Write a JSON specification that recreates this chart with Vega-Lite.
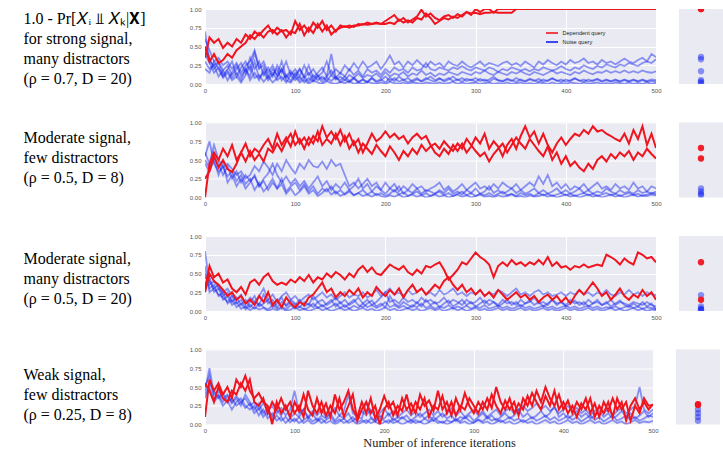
{
  "$schema": "https://vega.github.io/schema/vega-lite/v6.json",
  "background": "white",
  "padding": {"left": 23, "top": 6, "right": 0, "bottom": 0},
  "config": {
    "view": {"fill": "#eaeaf2", "stroke": null},
    "axis": {"domain": false, "ticks": false, "grid": true, "gridColor": "#ffffff", "gridWidth": 1, "labelFont": "Liberation Sans", "labelFontSize": 6, "labelColor": "#555555", "labelPadding": 3, "labelFlush": false, "labelOverlap": false},
    "axisY": {"labelPadding": 4, "titleAngle": 0, "titleAlign": "left", "titleBaseline": "alphabetic", "titleFont": "Liberation Serif", "titleFontSize": 16, "titleFontWeight": "normal", "titleColor": "#000000", "titleLineHeight": 20},
    "axisX": {"titleFont": "Liberation Serif", "titleFontSize": 12.4, "titleFontWeight": "normal", "titleColor": "#222222", "titleBaseline": "alphabetic"}
  },
  "datasets": {
    "p1": [
      {"x":0,"a":0.35,"b":0.5,"c":0.7,"d":0.5,"e":0.4,"f":0.3,"g":0.2,"h":0.6},
      {"x":5,"a":0.62,"b":0.3,"c":0.3,"d":0.35,"e":0.28,"f":0.2,"g":0.15,"h":0.45},
      {"x":10,"a":0.55,"b":0.4,"c":0.25,"d":0.2,"e":0.15,"f":0.25,"g":0.3,"h":0.3},
      {"x":15,"a":0.6,"b":0.28,"c":0.3,"d":0.28,"e":0.22,"f":0.1,"g":0.2,"h":0.35},
      {"x":20,"a":0.48,"b":0.32,"c":0.18,"d":0.12,"e":0.1,"f":0.18,"g":0.08,"h":0.25},
      {"x":25,"a":0.55,"b":0.4,"c":0.25,"d":0.2,"e":0.18,"f":0.05,"g":0.15,"h":0.3},
      {"x":30,"a":0.5,"b":0.35,"c":0.12,"d":0.3,"e":0.08,"f":0.15,"g":0.05,"h":0.2},
      {"x":35,"a":0.6,"b":0.45,"c":0.2,"d":0.1,"e":0.15,"f":0.25,"g":0.1,"h":0.28},
      {"x":40,"a":0.55,"b":0.5,"c":0.28,"d":0.22,"e":0.05,"f":0.1,"g":0.02,"h":0.15},
      {"x":45,"a":0.66,"b":0.55,"c":0.15,"d":0.3,"e":0.2,"f":0.2,"g":0.12,"h":0.25},
      {"x":50,"a":0.6,"b":0.65,"c":0.35,"d":0.18,"e":0.1,"f":0.05,"g":0.25,"h":0.3},
      {"x":55,"a":0.7,"b":0.6,"c":0.2,"d":0.42,"e":0.3,"f":0.15,"g":0.08,"h":0.45},
      {"x":60,"a":0.65,"b":0.68,"c":0.3,"d":0.2,"e":0.08,"f":0.05,"g":0.12,"h":0.22},
      {"x":65,"a":0.72,"b":0.62,"c":0.12,"d":0.25,"e":0.15,"f":0.2,"g":0.03,"h":0.3},
      {"x":70,"a":0.78,"b":0.7,"c":0.22,"d":0.1,"e":0.05,"f":0.08,"g":0.1,"h":0.15},
      {"x":75,"a":0.68,"b":0.72,"c":0.1,"d":0.2,"e":0.12,"f":0.15,"g":0.02,"h":0.25},
      {"x":80,"a":0.75,"b":0.66,"c":0.25,"d":0.12,"e":0.2,"f":0.05,"g":0.08,"h":0.1},
      {"x":85,"a":0.7,"b":0.72,"c":0.15,"d":0.3,"e":0.05,"f":0.1,"g":0.2,"h":0.2},
      {"x":90,"a":0.72,"b":0.62,"c":0.3,"d":0.1,"e":0.12,"f":0.02,"g":0.05,"h":0.08},
      {"x":95,"a":0.66,"b":0.7,"c":0.12,"d":0.18,"e":0.04,"f":0.12,"g":0.02,"h":0.15},
      {"x":100,"a":0.84,"b":0.68,"c":0.2,"d":0.08,"e":0.15,"f":0.05,"g":0.1,"h":0.12},
      {"x":105,"a":0.72,"b":0.8,"c":0.1,"d":0.2,"e":0.05,"f":0.1,"g":0.02,"h":0.2},
      {"x":110,"a":0.78,"b":0.65,"c":0.25,"d":0.1,"e":0.1,"f":0.02,"g":0.06,"h":0.08},
      {"x":115,"a":0.7,"b":0.75,"c":0.12,"d":0.25,"e":0.03,"f":0.08,"g":0,"h":0.15},
      {"x":120,"a":0.82,"b":0.68,"c":0.2,"d":0.08,"e":0.12,"f":0.03,"g":0.05,"h":0.05},
      {"x":125,"a":0.75,"b":0.8,"c":0.1,"d":0.15,"e":0.05,"f":0.1,"g":0.02,"h":0.12},
      {"x":130,"a":0.84,"b":0.7,"c":0.15,"d":0.22,"e":0.1,"f":0.02,"g":0,"h":0.06},
      {"x":135,"a":0.72,"b":0.78,"c":0.3,"d":0.1,"e":0.04,"f":0.08,"g":0.04,"h":0.1},
      {"x":140,"a":0.78,"b":0.66,"c":0.12,"d":0.18,"e":0.12,"f":0.04,"g":0.01,"h":0.4},
      {"x":145,"a":0.7,"b":0.72,"c":0.2,"d":0.08,"e":0.06,"f":0.1,"g":0,"h":0.08},
      {"x":150,"a":0.78,"b":0.75,"c":0.14,"d":0.15,"e":0.1,"f":0.02,"g":0.03,"h":0.05},
      {"x":155,"a":0.76,"b":0.77,"c":0.25,"d":0.1,"e":0.05,"f":0.06,"g":0.01,"h":0.1},
      {"x":160,"a":0.78,"b":0.75,"c":0.18,"d":0.2,"e":0.12,"f":0.02,"g":0.04,"h":0.04},
      {"x":165,"a":0.76,"b":0.78,"c":0.28,"d":0.12,"e":0.08,"f":0.08,"g":0,"h":0.08},
      {"x":170,"a":0.8,"b":0.78,"c":0.2,"d":0.18,"e":0.14,"f":0.03,"g":0.02,"h":0.02},
      {"x":175,"a":0.79,"b":0.8,"c":0.3,"d":0.1,"e":0.08,"f":0.06,"g":0,"h":0.06},
      {"x":180,"a":0.82,"b":0.79,"c":0.22,"d":0.2,"e":0.12,"f":0.02,"g":0.03,"h":0.03},
      {"x":185,"a":0.8,"b":0.8,"c":0.25,"d":0.15,"e":0.1,"f":0.08,"g":0.01,"h":0.08},
      {"x":190,"a":0.81,"b":0.82,"c":0.3,"d":0.18,"e":0.14,"f":0.04,"g":0,"h":0.02},
      {"x":195,"a":0.8,"b":0.8,"c":0.2,"d":0.12,"e":0.08,"f":0.06,"g":0.02,"h":0.05},
      {"x":200,"a":0.84,"b":0.8,"c":0.28,"d":0.2,"e":0.16,"f":0.02,"g":0,"h":0.1},
      {"x":205,"a":0.88,"b":0.82,"c":0.38,"d":0.15,"e":0.1,"f":0.08,"g":0.03,"h":0.04},
      {"x":210,"a":0.92,"b":0.8,"c":0.26,"d":0.22,"e":0.14,"f":0.04,"g":0.01,"h":0.08},
      {"x":215,"a":0.84,"b":0.86,"c":0.3,"d":0.18,"e":0.12,"f":0.1,"g":0,"h":0.03},
      {"x":220,"a":0.88,"b":0.82,"c":0.22,"d":0.2,"e":0.16,"f":0.05,"g":0.02,"h":0.06},
      {"x":225,"a":0.82,"b":0.85,"c":0.3,"d":0.15,"e":0.1,"f":0.08,"g":0,"h":0.02},
      {"x":230,"a":0.86,"b":0.82,"c":0.25,"d":0.22,"e":0.14,"f":0.03,"g":0.02,"h":0.05},
      {"x":235,"a":0.9,"b":0.88,"c":0.32,"d":0.18,"e":0.12,"f":0.06,"g":0.01,"h":0.08},
      {"x":240,"a":0.99,"b":0.86,"c":0.26,"d":0.2,"e":0.18,"f":0.04,"g":0,"h":0.03},
      {"x":245,"a":0.9,"b":0.94,"c":0.22,"d":0.28,"e":0.12,"f":0.08,"g":0.02,"h":0.06},
      {"x":250,"a":0.94,"b":0.88,"c":0.3,"d":0.2,"e":0.15,"f":0.05,"g":0.01,"h":0.1},
      {"x":255,"a":0.88,"b":0.8,"c":0.25,"d":0.18,"e":0.1,"f":0.03,"g":0,"h":0.05},
      {"x":260,"a":0.85,"b":0.84,"c":0.28,"d":0.22,"e":0.14,"f":0.07,"g":0.02,"h":0.08},
      {"x":265,"a":0.9,"b":0.88,"c":0.22,"d":0.2,"e":0.12,"f":0.05,"g":0,"h":0.03},
      {"x":270,"a":0.92,"b":0.86,"c":0.3,"d":0.18,"e":0.16,"f":0.08,"g":0.01,"h":0.06},
      {"x":275,"a":0.88,"b":0.9,"c":0.26,"d":0.22,"e":0.14,"f":0.04,"g":0.03,"h":0.1},
      {"x":280,"a":0.93,"b":0.88,"c":0.24,"d":0.2,"e":0.12,"f":0.06,"g":0,"h":0.05},
      {"x":285,"a":0.9,"b":0.92,"c":0.3,"d":0.24,"e":0.16,"f":0.03,"g":0.02,"h":0.08},
      {"x":290,"a":0.96,"b":0.96,"c":0.25,"d":0.2,"e":0.14,"f":0.07,"g":0,"h":0.04},
      {"x":295,"a":0.92,"b":0.94,"c":0.22,"d":0.18,"e":0.12,"f":0.05,"g":0.01,"h":0.06},
      {"x":300,"a":1,"b":0.95,"c":0.26,"d":0.22,"e":0.16,"f":0.08,"g":0.02,"h":0.03},
      {"x":305,"a":0.96,"b":0.93,"c":0.3,"d":0.2,"e":0.14,"f":0.04,"g":0,"h":0.07},
      {"x":310,"a":1,"b":0.95,"c":0.24,"d":0.18,"e":0.18,"f":0.06,"g":0.01,"h":0.04},
      {"x":315,"a":1,"b":0.95,"c":0.28,"d":0.22,"e":0.14,"f":0.03,"g":0.02,"h":0.06},
      {"x":320,"a":0.95,"b":0.96,"c":0.26,"d":0.2,"e":0.12,"f":0.07,"g":0,"h":0.1},
      {"x":325,"a":1,"b":0.95,"c":0.24,"d":0.16,"e":0.16,"f":0.05,"g":0.01,"h":0.05},
      {"x":330,"a":1,"b":0.95,"c":0.28,"d":0.2,"e":0.14,"f":0.04,"g":0,"h":0.03},
      {"x":335,"a":1,"b":0.95,"c":0.3,"d":0.18,"e":0.12,"f":0.07,"g":0.02,"h":0.06},
      {"x":340,"a":1,"b":0.95,"c":0.25,"d":0.22,"e":0.16,"f":0.05,"g":0,"h":0.04},
      {"x":345,"a":1,"b":1,"c":0.28,"d":0.2,"e":0.14,"f":0.03,"g":0.01,"h":0.08},
      {"x":350,"a":1,"b":1,"c":0.24,"d":0.18,"e":0.17,"f":0.06,"g":0.02,"h":0.05},
      {"x":355,"a":1,"b":1,"c":0.3,"d":0.2,"e":0.14,"f":0.04,"g":0,"h":0.03},
      {"x":360,"a":1,"b":1,"c":0.26,"d":0.17,"e":0.12,"f":0.07,"g":0.01,"h":0.06},
      {"x":365,"a":1,"b":1,"c":0.22,"d":0.2,"e":0.16,"f":0.05,"g":0,"h":0.04},
      {"x":370,"a":1,"b":1,"c":0.3,"d":0.18,"e":0.14,"f":0.03,"g":0.02,"h":0.07},
      {"x":375,"a":1,"b":1,"c":0.26,"d":0.22,"e":0.12,"f":0.06,"g":0.01,"h":0.03},
      {"x":380,"a":1,"b":1,"c":0.32,"d":0.2,"e":0.15,"f":0.04,"g":0,"h":0.05},
      {"x":385,"a":1,"b":1,"c":0.28,"d":0.18,"e":0.18,"f":0.07,"g":0.02,"h":0.08},
      {"x":390,"a":1,"b":1,"c":0.25,"d":0.2,"e":0.14,"f":0.05,"g":0,"h":0.04},
      {"x":395,"a":1,"b":1,"c":0.3,"d":0.24,"e":0.16,"f":0.03,"g":0.01,"h":0.06},
      {"x":400,"a":1,"b":1,"c":0.26,"d":0.2,"e":0.14,"f":0.06,"g":0,"h":0.03},
      {"x":405,"a":1,"b":1,"c":0.32,"d":0.18,"e":0.12,"f":0.04,"g":0.02,"h":0.05},
      {"x":410,"a":1,"b":1,"c":0.28,"d":0.22,"e":0.16,"f":0.07,"g":0.01,"h":0.08},
      {"x":415,"a":1,"b":1,"c":0.3,"d":0.2,"e":0.14,"f":0.05,"g":0,"h":0.04},
      {"x":420,"a":1,"b":1,"c":0.34,"d":0.25,"e":0.18,"f":0.03,"g":0.02,"h":0.06},
      {"x":425,"a":1,"b":1,"c":0.28,"d":0.22,"e":0.15,"f":0.06,"g":0,"h":0.03},
      {"x":430,"a":1,"b":1,"c":0.3,"d":0.2,"e":0.13,"f":0.04,"g":0.01,"h":0.05},
      {"x":435,"a":1,"b":1,"c":0.26,"d":0.24,"e":0.16,"f":0.06,"g":0.02,"h":0.07},
      {"x":440,"a":1,"b":1,"c":0.32,"d":0.22,"e":0.15,"f":0.03,"g":0,"h":0.04},
      {"x":445,"a":1,"b":1,"c":0.28,"d":0.26,"e":0.18,"f":0.05,"g":0.01,"h":0.06},
      {"x":450,"a":1,"b":1,"c":0.3,"d":0.24,"e":0.15,"f":0.04,"g":0,"h":0.03},
      {"x":455,"a":1,"b":1,"c":0.26,"d":0.22,"e":0.17,"f":0.06,"g":0.02,"h":0.05},
      {"x":460,"a":1,"b":1,"c":0.3,"d":0.26,"e":0.15,"f":0.03,"g":0.01,"h":0.04},
      {"x":465,"a":1,"b":1,"c":0.34,"d":0.24,"e":0.18,"f":0.05,"g":0,"h":0.06},
      {"x":470,"a":1,"b":1,"c":0.3,"d":0.28,"e":0.15,"f":0.04,"g":0.02,"h":0.03},
      {"x":475,"a":1,"b":1,"c":0.28,"d":0.26,"e":0.17,"f":0.06,"g":0,"h":0.05},
      {"x":480,"a":1,"b":1,"c":0.32,"d":0.24,"e":0.15,"f":0.03,"g":0.01,"h":0.04},
      {"x":485,"a":1,"b":1,"c":0.35,"d":0.28,"e":0.18,"f":0.05,"g":0,"h":0.06},
      {"x":490,"a":1,"b":1,"c":0.3,"d":0.3,"e":0.16,"f":0.04,"g":0.02,"h":0.03},
      {"x":495,"a":1,"b":1,"c":0.4,"d":0.28,"e":0.15,"f":0.06,"g":0,"h":0.04},
      {"x":500,"a":1,"b":1,"c":0.36,"d":0.33,"e":0.17,"f":0.05,"g":0.01,"h":0.03}
    ],
    "p2": [
      {"x":0,"a":0,"b":0.25,"c":0.6,"d":0.5,"e":0.45,"f":0.55},
      {"x":5,"a":0.45,"b":0.35,"c":0.45,"d":0.4,"e":0.35,"f":0.75},
      {"x":10,"a":0.6,"b":0.55,"c":0.7,"d":0.55,"e":0.5,"f":0.45},
      {"x":15,"a":0.5,"b":0.4,"c":0.5,"d":0.45,"e":0.3,"f":0.35},
      {"x":20,"a":0.65,"b":0.5,"c":0.4,"d":0.3,"e":0.45,"f":0.4},
      {"x":25,"a":0.55,"b":0.38,"c":0.45,"d":0.42,"e":0.2,"f":0.28},
      {"x":30,"a":0.7,"b":0.34,"c":0.38,"d":0.25,"e":0.3,"f":0.35},
      {"x":35,"a":0.5,"b":0.45,"c":0.3,"d":0.35,"e":0.15,"f":0.22},
      {"x":40,"a":0.6,"b":0.6,"c":0.35,"d":0.2,"e":0.25,"f":0.3},
      {"x":45,"a":0.72,"b":0.48,"c":0.25,"d":0.3,"e":0.12,"f":0.18},
      {"x":50,"a":0.55,"b":0.62,"c":0.3,"d":0.22,"e":0.2,"f":0.25},
      {"x":55,"a":0.65,"b":0.5,"c":0.42,"d":0.28,"e":0.3,"f":0.1},
      {"x":60,"a":0.6,"b":0.58,"c":0.35,"d":0.15,"e":0.15,"f":0.2},
      {"x":65,"a":0.7,"b":0.48,"c":0.48,"d":0.25,"e":0.22,"f":0.08},
      {"x":70,"a":0.78,"b":0.65,"c":0.4,"d":0.32,"e":0.1,"f":0.15},
      {"x":75,"a":0.65,"b":0.6,"c":0.3,"d":0.45,"e":0.2,"f":0.25},
      {"x":80,"a":0.85,"b":0.72,"c":0.45,"d":0.3,"e":0.12,"f":0.12},
      {"x":85,"a":0.7,"b":0.62,"c":0.35,"d":0.2,"e":0.25,"f":0.18},
      {"x":90,"a":0.8,"b":0.75,"c":0.5,"d":0.28,"e":0.08,"f":0.05},
      {"x":95,"a":0.68,"b":0.85,"c":0.4,"d":0.18,"e":0.15,"f":0.12},
      {"x":100,"a":0.88,"b":0.7,"c":0.32,"d":0.25,"e":0.2,"f":0.03},
      {"x":105,"a":0.72,"b":0.78,"c":0.45,"d":0.15,"e":0.1,"f":0.08},
      {"x":110,"a":0.8,"b":0.65,"c":0.38,"d":0.22,"e":0.18,"f":0.15},
      {"x":115,"a":0.7,"b":0.8,"c":0.5,"d":0.12,"e":0.08,"f":0.05},
      {"x":120,"a":0.82,"b":0.72,"c":0.42,"d":0.2,"e":0.15,"f":0.1},
      {"x":125,"a":0.75,"b":0.88,"c":0.4,"d":0.28,"e":0.05,"f":0.02},
      {"x":130,"a":0.95,"b":0.7,"c":0.48,"d":0.15,"e":0.12,"f":0.06},
      {"x":135,"a":0.8,"b":0.78,"c":0.38,"d":0.22,"e":0.08,"f":0.12},
      {"x":140,"a":0.88,"b":0.72,"c":0.5,"d":0.1,"e":0.15,"f":0.04},
      {"x":145,"a":0.78,"b":0.85,"c":0.42,"d":0.18,"e":0.05,"f":0.08},
      {"x":150,"a":0.9,"b":0.7,"c":0.45,"d":0.12,"e":0.1,"f":0.02},
      {"x":155,"a":0.75,"b":0.82,"c":0.3,"d":0.2,"e":0.04,"f":0.05},
      {"x":160,"a":0.85,"b":0.65,"c":0.15,"d":0.1,"e":0.08,"f":0.1},
      {"x":165,"a":0.7,"b":0.75,"c":0.2,"d":0.15,"e":0.03,"f":0.03},
      {"x":170,"a":0.78,"b":0.6,"c":0.12,"d":0.25,"e":0.06,"f":0.06},
      {"x":175,"a":0.6,"b":0.72,"c":0.18,"d":0.12,"e":0.1,"f":0.02},
      {"x":180,"a":0.72,"b":0.65,"c":0.25,"d":0.18,"e":0.04,"f":0.04},
      {"x":185,"a":0.85,"b":0.58,"c":0.15,"d":0.08,"e":0.08,"f":0.01},
      {"x":190,"a":0.75,"b":0.7,"c":0.2,"d":0.15,"e":0.03,"f":0.05},
      {"x":195,"a":0.8,"b":0.62,"c":0.1,"d":0.1,"e":0.06,"f":0.02},
      {"x":200,"a":0.88,"b":0.55,"c":0.2,"d":0.05,"e":0.02,"f":0},
      {"x":205,"a":0.8,"b":0.68,"c":0.12,"d":0.12,"e":0.05,"f":0.03},
      {"x":210,"a":0.85,"b":0.6,"c":0.18,"d":0.08,"e":0.1,"f":0.01},
      {"x":215,"a":0.78,"b":0.5,"c":0.08,"d":0.15,"e":0.04,"f":0.04},
      {"x":220,"a":0.82,"b":0.62,"c":0.15,"d":0.05,"e":0.07,"f":0},
      {"x":225,"a":0.72,"b":0.55,"c":0.1,"d":0.1,"e":0.02,"f":0.02},
      {"x":230,"a":0.8,"b":0.65,"c":0.18,"d":0.06,"e":0.05,"f":0.04},
      {"x":235,"a":0.85,"b":0.58,"c":0.12,"d":0.12,"e":0.08,"f":0.01},
      {"x":240,"a":0.78,"b":0.7,"c":0.15,"d":0.05,"e":0.03,"f":0.03},
      {"x":245,"a":0.82,"b":0.62,"c":0.08,"d":0.1,"e":0.06,"f":0},
      {"x":250,"a":0.7,"b":0.68,"c":0.12,"d":0.08,"e":0.02,"f":0.02},
      {"x":255,"a":0.6,"b":0.72,"c":0.15,"d":0.05,"e":0.05,"f":0.04},
      {"x":260,"a":0.55,"b":0.65,"c":0.2,"d":0.1,"e":0.08,"f":0.01},
      {"x":265,"a":0.65,"b":0.75,"c":0.1,"d":0.06,"e":0.03,"f":0.03},
      {"x":270,"a":0.58,"b":0.68,"c":0.15,"d":0.12,"e":0.06,"f":0},
      {"x":275,"a":0.7,"b":0.62,"c":0.08,"d":0.05,"e":0.02,"f":0.02},
      {"x":280,"a":0.62,"b":0.72,"c":0.12,"d":0.08,"e":0.05,"f":0.04},
      {"x":285,"a":0.72,"b":0.65,"c":0.18,"d":0.04,"e":0.08,"f":0.01},
      {"x":290,"a":0.6,"b":0.78,"c":0.1,"d":0.1,"e":0.03,"f":0.03},
      {"x":295,"a":0.68,"b":0.7,"c":0.15,"d":0.06,"e":0.06,"f":0},
      {"x":300,"a":0.8,"b":0.62,"c":0.2,"d":0.12,"e":0.02,"f":0.02},
      {"x":305,"a":0.72,"b":0.55,"c":0.12,"d":0.05,"e":0.05,"f":0.04},
      {"x":310,"a":0.85,"b":0.6,"c":0.15,"d":0.08,"e":0.03,"f":0.01},
      {"x":315,"a":0.65,"b":0.48,"c":0.1,"d":0.15,"e":0.06,"f":0.02},
      {"x":320,"a":0.75,"b":0.58,"c":0.18,"d":0.06,"e":0.02,"f":0},
      {"x":325,"a":0.68,"b":0.65,"c":0.12,"d":0.1,"e":0.05,"f":0.03},
      {"x":330,"a":0.55,"b":0.72,"c":0.2,"d":0.05,"e":0.08,"f":0.01},
      {"x":335,"a":0.7,"b":0.6,"c":0.15,"d":0.08,"e":0.03,"f":0.02},
      {"x":340,"a":0.78,"b":0.7,"c":0.12,"d":0.12,"e":0.05,"f":0.04},
      {"x":345,"a":0.65,"b":0.8,"c":0.18,"d":0.06,"e":0.02,"f":0.01},
      {"x":350,"a":0.82,"b":0.72,"c":0.1,"d":0.1,"e":0.06,"f":0.02},
      {"x":355,"a":0.95,"b":0.65,"c":0.15,"d":0.05,"e":0.03,"f":0},
      {"x":360,"a":0.8,"b":0.78,"c":0.2,"d":0.08,"e":0.05,"f":0.03},
      {"x":365,"a":0.88,"b":0.7,"c":0.15,"d":0.12,"e":0.02,"f":0.01},
      {"x":370,"a":0.72,"b":0.62,"c":0.28,"d":0.06,"e":0.06,"f":0.02},
      {"x":375,"a":0.85,"b":0.55,"c":0.18,"d":0.1,"e":0.03,"f":0.04},
      {"x":380,"a":0.7,"b":0.68,"c":0.3,"d":0.05,"e":0.05,"f":0.01},
      {"x":385,"a":0.6,"b":0.5,"c":0.15,"d":0.08,"e":0.02,"f":0.03},
      {"x":390,"a":0.72,"b":0.6,"c":0.2,"d":0.12,"e":0.04,"f":0},
      {"x":395,"a":0.8,"b":0.45,"c":0.12,"d":0.06,"e":0.06,"f":0.02},
      {"x":400,"a":0.7,"b":0.55,"c":0.18,"d":0.1,"e":0.03,"f":0.04},
      {"x":405,"a":0.78,"b":0.42,"c":0.1,"d":0.05,"e":0.05,"f":0.01},
      {"x":410,"a":0.85,"b":0.48,"c":0.15,"d":0.08,"e":0.02,"f":0.03},
      {"x":415,"a":0.82,"b":0.4,"c":0.12,"d":0.12,"e":0.04,"f":0},
      {"x":420,"a":0.9,"b":0.35,"c":0.18,"d":0.06,"e":0.06,"f":0.02},
      {"x":425,"a":0.85,"b":0.45,"c":0.1,"d":0.1,"e":0.03,"f":0.04},
      {"x":430,"a":0.95,"b":0.38,"c":0.15,"d":0.05,"e":0.05,"f":0.01},
      {"x":435,"a":0.88,"b":0.5,"c":0.2,"d":0.08,"e":0.02,"f":0.03},
      {"x":440,"a":0.9,"b":0.55,"c":0.12,"d":0.06,"e":0.04,"f":0},
      {"x":445,"a":0.85,"b":0.48,"c":0.15,"d":0.12,"e":0.06,"f":0.02},
      {"x":450,"a":0.82,"b":0.58,"c":0.1,"d":0.08,"e":0.03,"f":0.04},
      {"x":455,"a":0.78,"b":0.52,"c":0.18,"d":0.05,"e":0.05,"f":0.01},
      {"x":460,"a":0.75,"b":0.6,"c":0.12,"d":0.1,"e":0.02,"f":0.03},
      {"x":465,"a":0.85,"b":0.55,"c":0.15,"d":0.06,"e":0.04,"f":0},
      {"x":470,"a":0.72,"b":0.62,"c":0.1,"d":0.08,"e":0.06,"f":0.02},
      {"x":475,"a":0.9,"b":0.5,"c":0.2,"d":0.05,"e":0.03,"f":0.04},
      {"x":480,"a":0.78,"b":0.6,"c":0.12,"d":0.1,"e":0.05,"f":0.01},
      {"x":485,"a":0.95,"b":0.55,"c":0.15,"d":0.06,"e":0.02,"f":0.03},
      {"x":490,"a":0.7,"b":0.65,"c":0.08,"d":0.08,"e":0.04,"f":0.02},
      {"x":495,"a":0.85,"b":0.58,"c":0.15,"d":0.05,"e":0.06,"f":0.04},
      {"x":500,"a":0.66,"b":0.52,"c":0.12,"d":0.08,"e":0.05,"f":0.03}
    ],
    "p3": [
      {"x":0,"a":0.3,"b":0.25,"c":0.8,"d":0.45,"e":0.5,"f":0.35,"g":0.6},
      {"x":5,"a":0.6,"b":0.5,"c":0.35,"d":0.4,"e":0.3,"f":0.45,"g":0.25},
      {"x":10,"a":0.45,"b":0.4,"c":0.4,"d":0.3,"e":0.35,"f":0.25,"g":0.3},
      {"x":15,"a":0.5,"b":0.35,"c":0.3,"d":0.35,"e":0.2,"f":0.3,"g":0.22},
      {"x":20,"a":0.38,"b":0.28,"c":0.25,"d":0.2,"e":0.25,"f":0.15,"g":0.18},
      {"x":25,"a":0.42,"b":0.2,"c":0.3,"d":0.25,"e":0.1,"f":0.2,"g":0.12},
      {"x":30,"a":0.3,"b":0.25,"c":0.2,"d":0.12,"e":0.15,"f":0.08,"g":0.2},
      {"x":35,"a":0.25,"b":0.15,"c":0.15,"d":0.18,"e":0.05,"f":0.12,"g":0.1},
      {"x":40,"a":0.32,"b":0.2,"c":0.22,"d":0.08,"e":0.1,"f":0.03,"g":0.15},
      {"x":45,"a":0.22,"b":0.1,"c":0.1,"d":0.15,"e":0.02,"f":0.06,"g":0.05},
      {"x":50,"a":0.38,"b":0.15,"c":0.18,"d":0.05,"e":0.08,"f":0.01,"g":0.12},
      {"x":55,"a":0.42,"b":0.08,"c":0.12,"d":0.12,"e":0.03,"f":0.05,"g":0.2},
      {"x":60,"a":0.35,"b":0.2,"c":0.2,"d":0.08,"e":0.1,"f":0.02,"g":0.06},
      {"x":65,"a":0.45,"b":0.12,"c":0.3,"d":0.22,"e":0.05,"f":0.04,"g":0.1},
      {"x":70,"a":0.5,"b":0.25,"c":0.15,"d":0.1,"e":0.02,"f":0,"g":0.15},
      {"x":75,"a":0.4,"b":0.08,"c":0.22,"d":0.15,"e":0.08,"f":0.03,"g":0.05},
      {"x":80,"a":0.35,"b":0.15,"c":0.12,"d":0.05,"e":0.03,"f":0.01,"g":0.1},
      {"x":85,"a":0.38,"b":0.05,"c":0.2,"d":0.12,"e":0.06,"f":0.04,"g":0.18},
      {"x":90,"a":0.35,"b":0.18,"c":0.25,"d":0.08,"e":0.02,"f":0,"g":0.06},
      {"x":95,"a":0.42,"b":0.1,"c":0.15,"d":0.15,"e":0.08,"f":0.02,"g":0.12},
      {"x":100,"a":0.38,"b":0.05,"c":0.2,"d":0.1,"e":0.03,"f":0.05,"g":0.08},
      {"x":105,"a":0.45,"b":0.12,"c":0.12,"d":0.05,"e":0.06,"f":0.01,"g":0.15},
      {"x":110,"a":0.4,"b":0.08,"c":0.18,"d":0.12,"e":0.02,"f":0.03,"g":0.06},
      {"x":115,"a":0.48,"b":0.18,"c":0.22,"d":0.08,"e":0.05,"f":0,"g":0.1},
      {"x":120,"a":0.38,"b":0.22,"c":0.15,"d":0.2,"e":0.1,"f":0.02,"g":0.05},
      {"x":125,"a":0.45,"b":0.3,"c":0.2,"d":0.12,"e":0.04,"f":0.05,"g":0.12},
      {"x":130,"a":0.42,"b":0.38,"c":0.25,"d":0.15,"e":0.08,"f":0.01,"g":0.06},
      {"x":135,"a":0.5,"b":0.25,"c":0.18,"d":0.08,"e":0.03,"f":0.03,"g":0.1},
      {"x":140,"a":0.45,"b":0.3,"c":0.22,"d":0.12,"e":0.06,"f":0,"g":0.15},
      {"x":145,"a":0.52,"b":0.18,"c":0.15,"d":0.18,"e":0.1,"f":0.02,"g":0.06},
      {"x":150,"a":0.48,"b":0.25,"c":0.2,"d":0.1,"e":0.04,"f":0.04,"g":0.12},
      {"x":155,"a":0.42,"b":0.2,"c":0.25,"d":0.15,"e":0.08,"f":0.01,"g":0.05},
      {"x":160,"a":0.5,"b":0.28,"c":0.18,"d":0.08,"e":0.03,"f":0.03,"g":0.1},
      {"x":165,"a":0.45,"b":0.22,"c":0.22,"d":0.12,"e":0.07,"f":0,"g":0.15},
      {"x":170,"a":0.55,"b":0.3,"c":0.2,"d":0.18,"e":0.04,"f":0.02,"g":0.08},
      {"x":175,"a":0.6,"b":0.18,"c":0.25,"d":0.1,"e":0.1,"f":0.04,"g":0.05},
      {"x":180,"a":0.52,"b":0.25,"c":0.18,"d":0.15,"e":0.05,"f":0.01,"g":0.1},
      {"x":185,"a":0.58,"b":0.2,"c":0.22,"d":0.08,"e":0.08,"f":0.03,"g":0.14},
      {"x":190,"a":0.5,"b":0.32,"c":0.28,"d":0.12,"e":0.04,"f":0,"g":0.06},
      {"x":195,"a":0.48,"b":0.25,"c":0.2,"d":0.18,"e":0.07,"f":0.02,"g":0.1},
      {"x":200,"a":0.55,"b":0.2,"c":0.25,"d":0.25,"e":0.12,"f":0.05,"g":0.05},
      {"x":205,"a":0.62,"b":0.28,"c":0.3,"d":0.12,"e":0.05,"f":0.01,"g":0.2},
      {"x":210,"a":0.58,"b":0.22,"c":0.22,"d":0.15,"e":0.08,"f":0.03,"g":0.1},
      {"x":215,"a":0.55,"b":0.3,"c":0.25,"d":0.1,"e":0.04,"f":0,"g":0.06},
      {"x":220,"a":0.6,"b":0.18,"c":0.2,"d":0.18,"e":0.07,"f":0.02,"g":0.12},
      {"x":225,"a":0.52,"b":0.28,"c":0.28,"d":0.12,"e":0.03,"f":0.04,"g":0.08},
      {"x":230,"a":0.48,"b":0.35,"c":0.22,"d":0.15,"e":0.08,"f":0.01,"g":0.05},
      {"x":235,"a":0.55,"b":0.25,"c":0.25,"d":0.1,"e":0.05,"f":0.03,"g":0.12},
      {"x":240,"a":0.5,"b":0.3,"c":0.3,"d":0.18,"e":0.1,"f":0,"g":0.06},
      {"x":245,"a":0.6,"b":0.22,"c":0.22,"d":0.12,"e":0.04,"f":0.02,"g":0.15},
      {"x":250,"a":0.58,"b":0.28,"c":0.25,"d":0.15,"e":0.07,"f":0.04,"g":0.08},
      {"x":255,"a":0.62,"b":0.35,"c":0.2,"d":0.1,"e":0.03,"f":0.01,"g":0.12},
      {"x":260,"a":0.65,"b":0.3,"c":0.28,"d":0.12,"e":0.06,"f":0.03,"g":0.05},
      {"x":265,"a":0.55,"b":0.4,"c":0.22,"d":0.18,"e":0.04,"f":0,"g":0.1},
      {"x":270,"a":0.42,"b":0.45,"c":0.25,"d":0.1,"e":0.08,"f":0.02,"g":0.14},
      {"x":275,"a":0.48,"b":0.35,"c":0.3,"d":0.15,"e":0.03,"f":0.04,"g":0.06},
      {"x":280,"a":0.55,"b":0.28,"c":0.22,"d":0.12,"e":0.06,"f":0.01,"g":0.1},
      {"x":285,"a":0.65,"b":0.35,"c":0.25,"d":0.08,"e":0.04,"f":0.03,"g":0.15},
      {"x":290,"a":0.62,"b":0.25,"c":0.2,"d":0.15,"e":0.07,"f":0,"g":0.08},
      {"x":295,"a":0.7,"b":0.3,"c":0.25,"d":0.1,"e":0.03,"f":0.02,"g":0.12},
      {"x":300,"a":0.78,"b":0.22,"c":0.22,"d":0.12,"e":0.06,"f":0.04,"g":0.06},
      {"x":305,"a":0.72,"b":0.28,"c":0.28,"d":0.18,"e":0.04,"f":0.01,"g":0.1},
      {"x":310,"a":0.68,"b":0.2,"c":0.2,"d":0.1,"e":0.08,"f":0.03,"g":0.14},
      {"x":315,"a":0.62,"b":0.25,"c":0.25,"d":0.15,"e":0.03,"f":0,"g":0.08},
      {"x":320,"a":0.45,"b":0.18,"c":0.22,"d":0.12,"e":0.05,"f":0.02,"g":0.12},
      {"x":325,"a":0.6,"b":0.28,"c":0.28,"d":0.08,"e":0.07,"f":0.04,"g":0.06},
      {"x":330,"a":0.65,"b":0.22,"c":0.25,"d":0.15,"e":0.04,"f":0.01,"g":0.1},
      {"x":335,"a":0.6,"b":0.15,"c":0.2,"d":0.1,"e":0.06,"f":0.03,"g":0.15},
      {"x":340,"a":0.68,"b":0.2,"c":0.25,"d":0.12,"e":0.03,"f":0,"g":0.08},
      {"x":345,"a":0.62,"b":0.25,"c":0.3,"d":0.08,"e":0.05,"f":0.02,"g":0.12},
      {"x":350,"a":0.65,"b":0.18,"c":0.22,"d":0.15,"e":0.08,"f":0.04,"g":0.06},
      {"x":355,"a":0.6,"b":0.22,"c":0.25,"d":0.1,"e":0.04,"f":0.01,"g":0.1},
      {"x":360,"a":0.65,"b":0.15,"c":0.2,"d":0.12,"e":0.06,"f":0.03,"g":0.14},
      {"x":365,"a":0.62,"b":0.2,"c":0.25,"d":0.18,"e":0.03,"f":0,"g":0.08},
      {"x":370,"a":0.68,"b":0.12,"c":0.28,"d":0.1,"e":0.05,"f":0.02,"g":0.12},
      {"x":375,"a":0.62,"b":0.18,"c":0.22,"d":0.12,"e":0.07,"f":0.04,"g":0.06},
      {"x":380,"a":0.72,"b":0.22,"c":0.25,"d":0.08,"e":0.04,"f":0.01,"g":0.1},
      {"x":385,"a":0.6,"b":0.15,"c":0.2,"d":0.15,"e":0.06,"f":0.03,"g":0.15},
      {"x":390,"a":0.65,"b":0.2,"c":0.22,"d":0.1,"e":0.03,"f":0,"g":0.08},
      {"x":395,"a":0.58,"b":0.12,"c":0.25,"d":0.12,"e":0.05,"f":0.02,"g":0.12},
      {"x":400,"a":0.6,"b":0.18,"c":0.2,"d":0.08,"e":0.07,"f":0.04,"g":0.06},
      {"x":405,"a":0.55,"b":0.1,"c":0.25,"d":0.15,"e":0.04,"f":0.01,"g":0.1},
      {"x":410,"a":0.6,"b":0.2,"c":0.22,"d":0.1,"e":0.06,"f":0.03,"g":0.14},
      {"x":415,"a":0.58,"b":0.28,"c":0.28,"d":0.12,"e":0.03,"f":0,"g":0.08},
      {"x":420,"a":0.62,"b":0.22,"c":0.22,"d":0.08,"e":0.05,"f":0.02,"g":0.12},
      {"x":425,"a":0.58,"b":0.3,"c":0.25,"d":0.15,"e":0.07,"f":0.04,"g":0.06},
      {"x":430,"a":0.6,"b":0.38,"c":0.2,"d":0.1,"e":0.04,"f":0.01,"g":0.1},
      {"x":435,"a":0.62,"b":0.3,"c":0.25,"d":0.12,"e":0.06,"f":0.03,"g":0.15},
      {"x":440,"a":0.6,"b":0.2,"c":0.22,"d":0.08,"e":0.03,"f":0,"g":0.08},
      {"x":445,"a":0.75,"b":0.25,"c":0.28,"d":0.1,"e":0.05,"f":0.02,"g":0.12},
      {"x":450,"a":0.72,"b":0.15,"c":0.22,"d":0.15,"e":0.04,"f":0.04,"g":0.06},
      {"x":455,"a":0.68,"b":0.22,"c":0.2,"d":0.08,"e":0.06,"f":0.01,"g":0.1},
      {"x":460,"a":0.62,"b":0.3,"c":0.25,"d":0.12,"e":0.03,"f":0.03,"g":0.14},
      {"x":465,"a":0.7,"b":0.2,"c":0.22,"d":0.1,"e":0.05,"f":0,"g":0.08},
      {"x":470,"a":0.65,"b":0.15,"c":0.28,"d":0.08,"e":0.07,"f":0.02,"g":0.05},
      {"x":475,"a":0.62,"b":0.22,"c":0.22,"d":0.12,"e":0.04,"f":0.04,"g":0.1},
      {"x":480,"a":0.78,"b":0.18,"c":0.25,"d":0.1,"e":0.06,"f":0.01,"g":0.06},
      {"x":485,"a":0.75,"b":0.28,"c":0.2,"d":0.08,"e":0.03,"f":0.03,"g":0.12},
      {"x":490,"a":0.7,"b":0.2,"c":0.25,"d":0.12,"e":0.05,"f":0,"g":0.06},
      {"x":495,"a":0.72,"b":0.25,"c":0.22,"d":0.08,"e":0.04,"f":0.02,"g":0.1},
      {"x":500,"a":0.65,"b":0.15,"c":0.21,"d":0.06,"e":0.03,"f":0.01,"g":0.02}
    ],
    "p4": [
      {"x":0,"a":0.1,"b":0.55,"c":0.45,"d":0.5,"e":0.4,"f":0.35},
      {"x":5,"a":0.6,"b":0.45,"c":0.75,"d":0.65,"e":0.55,"f":0.5},
      {"x":10,"a":0.45,"b":0.3,"c":0.4,"d":0.35,"e":0.45,"f":0.3},
      {"x":15,"a":0.55,"b":0.5,"c":0.45,"d":0.4,"e":0.35,"f":0.38},
      {"x":20,"a":0.4,"b":0.35,"c":0.35,"d":0.3,"e":0.42,"f":0.25},
      {"x":25,"a":0.5,"b":0.3,"c":0.4,"d":0.38,"e":0.3,"f":0.32},
      {"x":30,"a":0.35,"b":0.45,"c":0.3,"d":0.28,"e":0.35,"f":0.2},
      {"x":35,"a":0.6,"b":0.4,"c":0.38,"d":0.35,"e":0.25,"f":0.3},
      {"x":40,"a":0.5,"b":0.55,"c":0.3,"d":0.25,"e":0.3,"f":0.35},
      {"x":45,"a":0.65,"b":0.45,"c":0.35,"d":0.4,"e":0.22,"f":0.25},
      {"x":50,"a":0.45,"b":0.6,"c":0.25,"d":0.3,"e":0.28,"f":0.2},
      {"x":55,"a":0.35,"b":0.3,"c":0.3,"d":0.2,"e":0.15,"f":0.25},
      {"x":60,"a":0.42,"b":0.25,"c":0.2,"d":0.28,"e":0.22,"f":0.12},
      {"x":65,"a":0.3,"b":0.35,"c":0.28,"d":0.15,"e":0.1,"f":0.2},
      {"x":70,"a":0.25,"b":0.15,"c":0.18,"d":0.22,"e":0.18,"f":0.08},
      {"x":75,"a":0,"b":0.3,"c":0.25,"d":0.1,"e":0.05,"f":0.15},
      {"x":80,"a":0.3,"b":0.2,"c":0.15,"d":0.2,"e":0.12,"f":0.05},
      {"x":85,"a":0.15,"b":0.35,"c":0.22,"d":0.12,"e":0.05,"f":0.1},
      {"x":90,"a":0.25,"b":0.2,"c":0.12,"d":0.25,"e":0.1,"f":0.02},
      {"x":95,"a":0.1,"b":0.3,"c":0.2,"d":0.08,"e":0.03,"f":0.08},
      {"x":100,"a":0.3,"b":0.15,"c":0.45,"d":0.15,"e":0.08,"f":0.04},
      {"x":105,"a":0.18,"b":0.25,"c":0.15,"d":0.1,"e":0.02,"f":0.1},
      {"x":110,"a":0.4,"b":0.1,"c":0.2,"d":0.2,"e":0.06,"f":0.02},
      {"x":115,"a":0.2,"b":0.45,"c":0.1,"d":0.08,"e":0.1,"f":0.06},
      {"x":120,"a":0.12,"b":0.25,"c":0.18,"d":0.15,"e":0.04,"f":0},
      {"x":125,"a":0.35,"b":0.15,"c":0.12,"d":0.05,"e":0.08,"f":0.04},
      {"x":130,"a":0.15,"b":0.3,"c":0.2,"d":0.12,"e":0.02,"f":0.08},
      {"x":135,"a":0.28,"b":0.12,"c":0.1,"d":0.08,"e":0.06,"f":0.02},
      {"x":140,"a":0.1,"b":0.25,"c":0.15,"d":0.15,"e":0.1,"f":0.05},
      {"x":145,"a":0.4,"b":0.15,"c":0.22,"d":0.05,"e":0.03,"f":0},
      {"x":150,"a":0.2,"b":0.35,"c":0.12,"d":0.12,"e":0.07,"f":0.04},
      {"x":155,"a":0.3,"b":0.1,"c":0.18,"d":0.08,"e":0.02,"f":0.08},
      {"x":160,"a":0.45,"b":0.25,"c":0.4,"d":0.15,"e":0.05,"f":0.02},
      {"x":165,"a":0.2,"b":0.4,"c":0.15,"d":0.05,"e":0.1,"f":0.05},
      {"x":170,"a":0.1,"b":0.05,"c":0.1,"d":0.1,"e":0.03,"f":0},
      {"x":175,"a":0.3,"b":0.2,"c":0.18,"d":0.08,"e":0.06,"f":0.03},
      {"x":180,"a":0.15,"b":0.3,"c":0.12,"d":0.3,"e":0.02,"f":0.06},
      {"x":185,"a":0.35,"b":0.15,"c":0.2,"d":0.1,"e":0.08,"f":0.02},
      {"x":190,"a":0.08,"b":0.25,"c":0.1,"d":0.05,"e":0.04,"f":0.04},
      {"x":195,"a":0.2,"b":0,"c":0.15,"d":0.12,"e":0.1,"f":0},
      {"x":200,"a":0.38,"b":0.2,"c":0.22,"d":0.08,"e":0.05,"f":0.03},
      {"x":205,"a":0.22,"b":0.3,"c":0.12,"d":0.15,"e":0.02,"f":0.06},
      {"x":210,"a":0.3,"b":0.12,"c":0.18,"d":0.05,"e":0.08,"f":0.02},
      {"x":215,"a":0.12,"b":0.25,"c":0.1,"d":0.1,"e":0.04,"f":0.04},
      {"x":220,"a":0.35,"b":0.18,"c":0.15,"d":0.08,"e":0.1,"f":0},
      {"x":225,"a":0.2,"b":0.4,"c":0.2,"d":0.12,"e":0.05,"f":0.03},
      {"x":230,"a":0.28,"b":0.15,"c":0.12,"d":0.05,"e":0.02,"f":0.06},
      {"x":235,"a":0.15,"b":0.3,"c":0.18,"d":0.1,"e":0.06,"f":0.02},
      {"x":240,"a":0.4,"b":0.2,"c":0.1,"d":0.15,"e":0.03,"f":0.04},
      {"x":245,"a":0.25,"b":0.35,"c":0.15,"d":0.08,"e":0.08,"f":0},
      {"x":250,"a":0.32,"b":0.1,"c":0.2,"d":0.12,"e":0.04,"f":0.03},
      {"x":255,"a":0.18,"b":0.25,"c":0.12,"d":0.05,"e":0.1,"f":0.06},
      {"x":260,"a":0.45,"b":0.2,"c":0.18,"d":0.1,"e":0.05,"f":0.02},
      {"x":265,"a":0.2,"b":0.38,"c":0.1,"d":0.15,"e":0.02,"f":0.04},
      {"x":270,"a":0.3,"b":0.15,"c":0.15,"d":0.08,"e":0.06,"f":0},
      {"x":275,"a":0.12,"b":0.3,"c":0.22,"d":0.12,"e":0.03,"f":0.03},
      {"x":280,"a":0.35,"b":0.12,"c":0.12,"d":0.05,"e":0.08,"f":0.06},
      {"x":285,"a":0.2,"b":0.25,"c":0.18,"d":0.1,"e":0.04,"f":0.02},
      {"x":290,"a":0.42,"b":0.2,"c":0.1,"d":0.08,"e":0.1,"f":0.04},
      {"x":295,"a":0.25,"b":0.35,"c":0.15,"d":0.12,"e":0.05,"f":0},
      {"x":300,"a":0.15,"b":0.25,"c":0.2,"d":0.05,"e":0.02,"f":0.03},
      {"x":305,"a":0.3,"b":0.15,"c":0.12,"d":0.1,"e":0.07,"f":0.06},
      {"x":310,"a":0.2,"b":0.3,"c":0.18,"d":0.15,"e":0.04,"f":0.02},
      {"x":315,"a":0.35,"b":0.2,"c":0.1,"d":0.08,"e":0.1,"f":0.04},
      {"x":320,"a":0.22,"b":0.4,"c":0.15,"d":0.12,"e":0.05,"f":0},
      {"x":325,"a":0.5,"b":0.25,"c":0.2,"d":0.05,"e":0.08,"f":0.03},
      {"x":330,"a":0.3,"b":0.15,"c":0.12,"d":0.1,"e":0.03,"f":0.06},
      {"x":335,"a":0.2,"b":0.32,"c":0.18,"d":0.15,"e":0.06,"f":0.02},
      {"x":340,"a":0.35,"b":0.2,"c":0.22,"d":0.08,"e":0.1,"f":0.04},
      {"x":345,"a":0.15,"b":0.3,"c":0.15,"d":0.12,"e":0.05,"f":0},
      {"x":350,"a":0.28,"b":0.12,"c":0.2,"d":0.2,"e":0.08,"f":0.03},
      {"x":355,"a":0.2,"b":0.35,"c":0.25,"d":0.1,"e":0.03,"f":0.06},
      {"x":360,"a":0.38,"b":0.25,"c":0.18,"d":0.15,"e":0.06,"f":0.02},
      {"x":365,"a":0.25,"b":0.42,"c":0.22,"d":0.08,"e":0.1,"f":0.04},
      {"x":370,"a":0.45,"b":0.3,"c":0.28,"d":0.12,"e":0.05,"f":0},
      {"x":375,"a":0.3,"b":0.2,"c":0.2,"d":0.18,"e":0.08,"f":0.03},
      {"x":380,"a":0.5,"b":0.38,"c":0.25,"d":0.1,"e":0.12,"f":0.06},
      {"x":385,"a":0.35,"b":0.25,"c":0.18,"d":0.15,"e":0.06,"f":0.02},
      {"x":390,"a":0.25,"b":0.45,"c":0.22,"d":0.25,"e":0.1,"f":0.04},
      {"x":395,"a":0.4,"b":0.2,"c":0.15,"d":0.1,"e":0.05,"f":0},
      {"x":400,"a":0.2,"b":0.3,"c":0.2,"d":0.15,"e":0.08,"f":0.03},
      {"x":405,"a":0.32,"b":0.15,"c":0.25,"d":0.08,"e":0.12,"f":0.06},
      {"x":410,"a":0.15,"b":0.25,"c":0.18,"d":0.12,"e":0.06,"f":0.02},
      {"x":415,"a":0.3,"b":0.1,"c":0.22,"d":0.18,"e":0.1,"f":0.04},
      {"x":420,"a":0.2,"b":0.28,"c":0.15,"d":0.1,"e":0.04,"f":0},
      {"x":425,"a":0.35,"b":0.2,"c":0.2,"d":0.15,"e":0.08,"f":0.03},
      {"x":430,"a":0.15,"b":0.35,"c":0.12,"d":0.08,"e":0.12,"f":0.06},
      {"x":435,"a":0.28,"b":0.1,"c":0.18,"d":0.12,"e":0.06,"f":0.02},
      {"x":440,"a":0.1,"b":0.25,"c":0.22,"d":0.18,"e":0.1,"f":0.04},
      {"x":445,"a":0.3,"b":0.15,"c":0.15,"d":0.1,"e":0.04,"f":0},
      {"x":450,"a":0.18,"b":0.3,"c":0.2,"d":0.15,"e":0.08,"f":0.03},
      {"x":455,"a":0.35,"b":0.1,"c":0.12,"d":0.08,"e":0.12,"f":0.06},
      {"x":460,"a":0.2,"b":0.35,"c":0.18,"d":0.12,"e":0.05,"f":0.02},
      {"x":465,"a":0.3,"b":0.2,"c":0.22,"d":0.18,"e":0.08,"f":0.04},
      {"x":470,"a":0.05,"b":0.3,"c":0.15,"d":0.1,"e":0.12,"f":0},
      {"x":475,"a":0.25,"b":0.05,"c":0.2,"d":0.15,"e":0.06,"f":0.03},
      {"x":480,"a":0.35,"b":0.25,"c":0.25,"d":0.08,"e":0.1,"f":0.06},
      {"x":485,"a":0.2,"b":0.15,"c":0.5,"d":0.12,"e":0.05,"f":0.02},
      {"x":490,"a":0.3,"b":0.35,"c":0.2,"d":0.18,"e":0.08,"f":0.04},
      {"x":495,"a":0.2,"b":0.25,"c":0.15,"d":0.1,"e":0.12,"f":0.03},
      {"x":500,"a":0.27,"b":0.26,"c":0.2,"d":0.15,"e":0.1,"f":0.05}
    ]
  },
  "vconcat": [
    {
      "hconcat": [
        {
          "width": 451, "height": 75,
          "data": {"name": "p1"},
          "encoding": {
            "x": {"field": "x", "type": "quantitative", "scale": {"domain": [0, 500], "nice": false}, "axis": {"values": [0, 100, 200, 300, 400, 500], "format": "d", "title": null}},
            "y": {"field": "y", "type": "quantitative", "scale": {"domain": [0, 1], "nice": false}, "axis": {"values": [0, 0.25, 0.5, 0.75, 1], "format": ".2f", "title": ["1.0 - Pr[𝑋ᵢ ⫫ 𝑋ₖ|𝐗]", "for strong signal,", "many distractors", "(ρ = 0.7, D = 20)"], "titleX": -182, "titleY": 14.5}},
            "detail": {"field": "s"}
          },
          "layer": [
            {
              "transform": [{"fold": ["c", "d", "e", "f", "g", "h"], "as": ["s", "y"]}],
              "mark": {"type": "line", "strokeWidth": 1.8, "opacity": 0.45, "clip": true},
              "encoding": {"color": {"datum": "Noise query", "scale": {"domain": ["Dependent query", "Noise query"], "range": ["#f0141e", "#1020f0"]}, "legend": {"title": null, "orient": "none", "legendX": 342, "legendY": 19, "padding": 0, "symbolType": "M-1.5,0L1.5,0", "symbolSize": 64, "symbolStrokeWidth": 1.6, "symbolOpacity": 1, "labelFont": "Liberation Sans", "labelFontSize": 5.6, "labelColor": "#222222", "labelOffset": 5.4, "rowPadding": -1}}}
            },
            {
              "transform": [{"fold": ["a", "b"], "as": ["s", "y"]}],
              "mark": {"type": "line", "strokeWidth": 2, "clip": true},
              "encoding": {"color": {"datum": "Dependent query"}}
            }
          ]
        },
        {
          "width": 44, "height": 75,
          "data": {"name": "p1"},
          "transform": [{"filter": "datum.x === 500"}],
          "encoding": {"y": {"field": "y", "type": "quantitative", "scale": {"domain": [0, 1], "nice": false}, "axis": null}},
          "layer": [
            {"transform": [{"fold": ["c", "d", "e", "f", "g", "h"], "as": ["s", "y"]}], "mark": {"type": "circle", "size": 40, "opacity": 0.45, "color": "#1020f0", "clip": true}},
            {"transform": [{"fold": ["a", "b"], "as": ["s", "y"]}], "mark": {"type": "circle", "size": 40, "opacity": 0.95, "color": "#f0141e", "clip": true}}
          ]
        }
      ],
      "spacing": 17,
      "resolve": {"scale": {"color": "independent"}, "legend": {"color": "independent"}}
    },
    {
      "hconcat": [
        {
          "width": 451, "height": 75,
          "data": {"name": "p2"},
          "encoding": {
            "x": {"field": "x", "type": "quantitative", "scale": {"domain": [0, 500], "nice": false}, "axis": {"values": [0, 100, 200, 300, 400, 500], "format": "d", "title": null}},
            "y": {"field": "y", "type": "quantitative", "scale": {"domain": [0, 1], "nice": false}, "axis": {"values": [0, 0.25, 0.5, 0.75, 1], "format": ".2f", "title": ["Moderate signal,", "few distractors", "(ρ = 0.5, D = 8)"], "titleX": -182, "titleY": 19.6}},
            "detail": {"field": "s"}
          },
          "layer": [
            {
              "transform": [{"fold": ["c", "d", "e", "f"], "as": ["s", "y"]}],
              "mark": {"type": "line", "strokeWidth": 1.8, "opacity": 0.45, "color": "#1020f0", "clip": true}
            },
            {
              "transform": [{"fold": ["a", "b"], "as": ["s", "y"]}],
              "mark": {"type": "line", "strokeWidth": 2, "color": "#f0141e", "clip": true}
            }
          ]
        },
        {
          "width": 44, "height": 75,
          "data": {"name": "p2"},
          "transform": [{"filter": "datum.x === 500"}],
          "encoding": {"y": {"field": "y", "type": "quantitative", "scale": {"domain": [0, 1], "nice": false}, "axis": null}},
          "layer": [
            {"transform": [{"fold": ["c", "d", "e", "f"], "as": ["s", "y"]}], "mark": {"type": "circle", "size": 40, "opacity": 0.45, "color": "#1020f0", "clip": true}},
            {"transform": [{"fold": ["a", "b"], "as": ["s", "y"]}], "mark": {"type": "circle", "size": 40, "opacity": 0.95, "color": "#f0141e", "clip": true}}
          ]
        }
      ],
      "spacing": 17
    },
    {
      "hconcat": [
        {
          "width": 451, "height": 75,
          "data": {"name": "p3"},
          "encoding": {
            "x": {"field": "x", "type": "quantitative", "scale": {"domain": [0, 500], "nice": false}, "axis": {"values": [0, 100, 200, 300, 400, 500], "format": "d", "title": null}},
            "y": {"field": "y", "type": "quantitative", "scale": {"domain": [0, 1], "nice": false}, "axis": {"values": [0, 0.25, 0.5, 0.75, 1], "format": ".2f", "title": ["Moderate signal,", "many distractors", "(ρ = 0.5, D = 20)"], "titleX": -182, "titleY": 27.3}},
            "detail": {"field": "s"}
          },
          "layer": [
            {
              "transform": [{"fold": ["c", "d", "e", "f", "g"], "as": ["s", "y"]}],
              "mark": {"type": "line", "strokeWidth": 1.8, "opacity": 0.45, "color": "#1020f0", "clip": true}
            },
            {
              "transform": [{"fold": ["a", "b"], "as": ["s", "y"]}],
              "mark": {"type": "line", "strokeWidth": 2, "color": "#f0141e", "clip": true}
            }
          ]
        },
        {
          "width": 44, "height": 75,
          "data": {"name": "p3"},
          "transform": [{"filter": "datum.x === 500"}],
          "encoding": {"y": {"field": "y", "type": "quantitative", "scale": {"domain": [0, 1], "nice": false}, "axis": null}},
          "layer": [
            {"transform": [{"fold": ["c", "d", "e", "f", "g"], "as": ["s", "y"]}], "mark": {"type": "circle", "size": 40, "opacity": 0.45, "color": "#1020f0", "clip": true}},
            {"transform": [{"fold": ["a", "b"], "as": ["s", "y"]}], "mark": {"type": "circle", "size": 40, "opacity": 0.95, "color": "#f0141e", "clip": true}}
          ]
        }
      ],
      "spacing": 17
    },
    {
      "hconcat": [
        {
          "width": 448, "height": 75,
          "data": {"name": "p4"},
          "encoding": {
            "x": {"field": "x", "type": "quantitative", "scale": {"domain": [0, 500], "nice": false}, "axis": {"values": [0, 100, 200, 300, 400, 500], "format": "d", "title": "Number of inference iterations", "titleX": 234, "titleY": 21.5}},
            "y": {"field": "y", "type": "quantitative", "scale": {"domain": [0, 1], "nice": false}, "axis": {"values": [0, 0.25, 0.5, 0.75, 1], "format": ".2f", "title": ["Weak signal,", "few distractors", "(ρ = 0.25, D = 8)"], "titleX": -182, "titleY": 29.6}},
            "detail": {"field": "s"}
          },
          "layer": [
            {
              "transform": [{"fold": ["c", "d", "e", "f"], "as": ["s", "y"]}],
              "mark": {"type": "line", "strokeWidth": 1.8, "opacity": 0.45, "color": "#1020f0", "clip": true}
            },
            {
              "transform": [{"fold": ["a", "b"], "as": ["s", "y"]}],
              "mark": {"type": "line", "strokeWidth": 2, "color": "#f0141e", "clip": true}
            }
          ]
        },
        {
          "width": 44, "height": 75,
          "data": {"name": "p4"},
          "transform": [{"filter": "datum.x === 500"}],
          "encoding": {"y": {"field": "y", "type": "quantitative", "scale": {"domain": [0, 1], "nice": false}, "axis": null}},
          "layer": [
            {"transform": [{"fold": ["c", "d", "e", "f"], "as": ["s", "y"]}], "mark": {"type": "circle", "size": 40, "opacity": 0.45, "color": "#1020f0", "clip": true}},
            {"transform": [{"fold": ["a", "b"], "as": ["s", "y"]}], "mark": {"type": "circle", "size": 40, "opacity": 0.95, "color": "#f0141e", "clip": true}}
          ]
        }
      ],
      "spacing": 17
    }
  ],
  "spacing": 26.5,
  "resolve": {"scale": {"color": "independent"}, "legend": {"color": "independent"}}
}
